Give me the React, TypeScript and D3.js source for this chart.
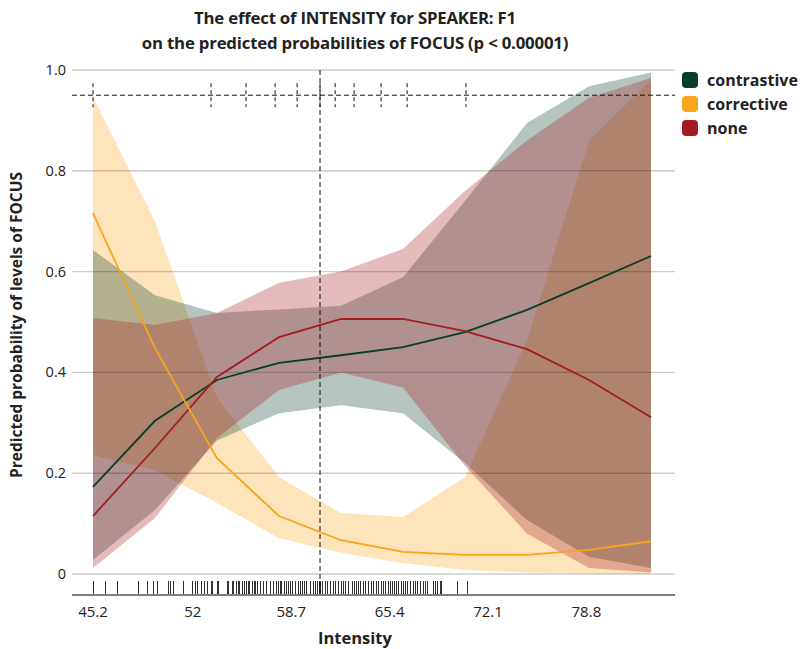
import React from "react";
import * as d3 from "d3";

const W = 802;
const H = 649;

const xVals = [45.2, 49.42, 53.64, 57.87, 62.09, 66.31, 70.53, 74.76, 78.98, 83.2];

const contrastiveFit = [0.173, 0.304, 0.385, 0.419, 0.434, 0.45, 0.48, 0.524, 0.577, 0.631];
const contrastiveLower = [0.028, 0.127, 0.265, 0.319, 0.335, 0.319, 0.22, 0.107, 0.034, 0.012];
const contrastiveUpper = [0.643, 0.553, 0.518, 0.525, 0.532, 0.589, 0.74, 0.895, 0.968, 0.995];

const correctiveFit = [0.716, 0.448, 0.23, 0.115, 0.067, 0.044, 0.038, 0.038, 0.048, 0.065];
const correctiveLower = [0.236, 0.206, 0.141, 0.071, 0.042, 0.022, 0.008, 0.003, 0.001, 0.0];
const correctiveUpper = [0.946, 0.7, 0.35, 0.192, 0.121, 0.113, 0.192, 0.464, 0.86, 0.98];

const noneFit = [0.115, 0.25, 0.391, 0.47, 0.506, 0.506, 0.482, 0.446, 0.385, 0.311];
const noneLower = [0.012, 0.111, 0.27, 0.365, 0.4, 0.37, 0.215, 0.08, 0.012, 0.003];
const noneUpper = [0.508, 0.494, 0.518, 0.578, 0.6, 0.645, 0.76, 0.86, 0.945, 0.984];

const categories = ["contrastive", "corrective", "none"];
const colors = ["#0b3d2c", "#f7a51c", "#a41c22"];

const xTicks = [45.2, 52, 58.7, 65.4, 72.1, 78.8];
const yTicks = [0, 0.2, 0.4, 0.6, 0.8, 1.0];
const yTickLabels = ["0", "0.2", "0.4", "0.6", "0.8", "1.0"];

const quantileTicks = [45.2, 53.24, 55.62, 57.6, 59.1, 60.66, 61.69, 62.98, 64.82, 66.59, 70.6];
const medianValue = 60.66;
const refLevel = 0.95;

const rugValues = [
  45.2, 46.02, 46.9, 48.27, 48.88, 49.29, 49.56, 50.31, 50.51, 50.65, 51.33,
  52.01, 52.15, 52.35, 52.56, 52.76, 52.97, 53.24, 53.37, 53.65, 53.78, 54.33,
  54.46, 54.67, 54.8, 54.94, 55.08, 55.21, 55.35, 55.49, 55.62, 55.76, 55.89,
  56.03, 56.17, 56.3, 56.37, 56.58, 56.78, 56.99, 57.26, 57.46, 57.67, 57.8,
  57.94, 58.07, 58.21, 58.35, 58.48, 58.62, 58.76, 58.96, 59.17, 59.3, 59.44,
  59.57, 59.71, 59.98, 60.19, 60.32, 60.46, 60.6, 60.66, 60.8, 61.0, 61.14,
  61.34, 61.55, 61.69, 61.89, 62.09, 62.23, 62.37, 62.57, 62.84, 62.98, 63.12,
  63.25, 63.39, 63.59, 63.73, 63.93, 64.14, 64.27, 64.48, 64.61, 64.82, 64.95,
  65.09, 65.3, 65.43, 65.57, 65.7, 65.84, 65.98, 66.18, 66.32, 66.45, 66.59,
  66.79, 67.0, 67.13, 67.27, 67.48, 67.68, 67.82, 67.95, 68.36, 68.5, 68.63,
  68.84, 68.91, 70.0, 70.68,
];

const FONT = "'Open Sans', 'DejaVu Sans', sans-serif";

export default function App() {
  const x = d3.scaleLinear().domain([45.2, 83.2]).range([93, 651]);
  const y = d3.scaleLinear().domain([0, 1]).range([574, 70]);
  const gridX0 = 72;
  const gridX1 = 675;
  const axisY = 595;

  const series = [
    { name: "corrective", color: colors[1], fit: correctiveFit, lo: correctiveLower, hi: correctiveUpper },
    { name: "contrastive", color: colors[0], fit: contrastiveFit, lo: contrastiveLower, hi: contrastiveUpper },
    { name: "none", color: colors[2], fit: noneFit, lo: noneLower, hi: noneUpper },
  ];

  const area = (lo: number[], hi: number[]) =>
    d3
      .area<number>()
      .x((_, i) => x(xVals[i]))
      .y0((_, i) => y(lo[i]))
      .y1((_, i) => y(hi[i]))(xVals) as string;

  const line = (fit: number[]) =>
    d3
      .line<number>()
      .x((_, i) => x(xVals[i]))
      .y((_, i) => y(fit[i]))(xVals) as string;

  const lineOrder = [series[1], series[2], series[0]];

  return (
    <svg
      width={W}
      height={H}
      style={{ position: "absolute", left: 0, top: 0, background: "#fff" }}
      fontFamily={FONT}
    >
      <text x={355} y={24} textAnchor="middle" fontSize={16.8} fontWeight={700} fill="#222" letterSpacing={-0.2}>
        The effect of INTENSITY for SPEAKER: F1
      </text>
      <text x={355} y={49} textAnchor="middle" fontSize={16.8} fontWeight={700} fill="#222" letterSpacing={-0.2}>
        on the predicted probabilities of FOCUS (p &lt; 0.00001)
      </text>

      {series.map((s) => (
        <path key={"band-" + s.name} d={area(s.lo, s.hi)} fill={s.color} fillOpacity={0.3} stroke="none" />
      ))}

      {yTicks.map((t, i) => (
        <g key={"yt" + i}>
          <line x1={gridX0} x2={gridX1} y1={y(t)} y2={y(t)} stroke="#000" strokeOpacity={0.2} strokeWidth={1.4} />
          <text x={66} y={y(t) + 5} textAnchor="end" fontSize={14.5} fill="#222">
            {yTickLabels[i]}
          </text>
        </g>
      ))}

      {lineOrder.map((s) => (
        <path key={"line-" + s.name} d={line(s.fit)} fill="none" stroke={s.color} strokeWidth={1.8} />
      ))}

      <line
        x1={gridX0}
        x2={gridX1}
        y1={y(refLevel)}
        y2={y(refLevel)}
        stroke="#111"
        strokeWidth={1}
        strokeDasharray="5,3"
      />
      {quantileTicks.map((q, i) => (
        <line
          key={"q" + i}
          x1={x(q)}
          x2={x(q)}
          y1={y(refLevel) - 12}
          y2={y(refLevel) + 12}
          stroke="#111"
          strokeWidth={1}
          strokeDasharray="4,3"
        />
      ))}
      <line
        x1={x(medianValue)}
        x2={x(medianValue)}
        y1={y(1)}
        y2={axisY - 2}
        stroke="#111"
        strokeWidth={1}
        strokeDasharray="5,3"
      />

      {rugValues.map((v, i) => (
        <line
          key={"r" + i}
          x1={x(v)}
          x2={x(v)}
          y1={581}
          y2={594}
          stroke="#000"
          strokeOpacity={0.8}
          strokeWidth={1}
          shapeRendering="crispEdges"
        />
      ))}
      <line x1={gridX0} x2={gridX1} y1={axisY} y2={axisY} stroke="#555" strokeWidth={1.5} />

      {xTicks.map((t, i) => (
        <text key={"xt" + i} x={x(t)} y={617} textAnchor="middle" fontSize={15} fill="#222">
          {t}
        </text>
      ))}
      <text x={355} y={644} textAnchor="middle" fontSize={16.5} fontWeight={700} fill="#222">
        Intensity
      </text>
      <text
        transform={`translate(22, 325) rotate(-90)`}
        textAnchor="middle"
        fontSize={15.5}
        fontWeight={700}
        fill="#222"
      >
        Predicted probability of levels of FOCUS
      </text>

      {categories.map((c, i) => (
        <g key={"lg" + i} transform={`translate(682, ${72 + i * 24})`}>
          <rect x={0} y={0} width={16} height={16} rx={4} fill={colors[i]} />
          <text x={25} y={13.5} fontSize={16} fontWeight={700} fill="#222">
            {c}
          </text>
        </g>
      ))}
    </svg>
  );
}
